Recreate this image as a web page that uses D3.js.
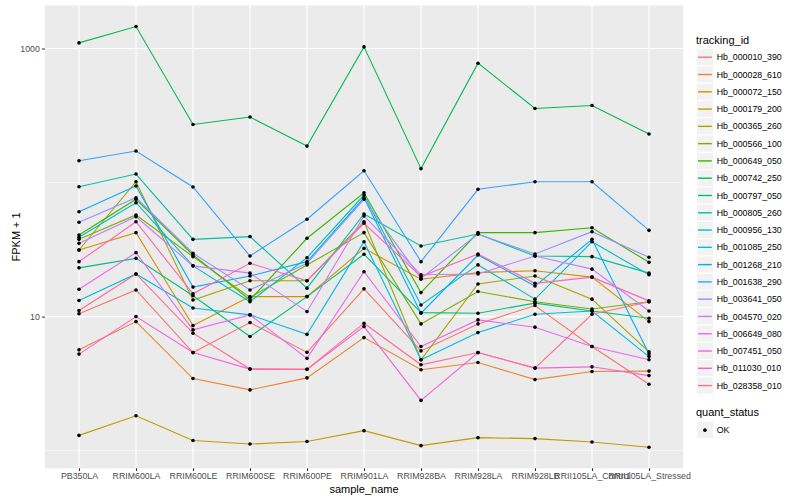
<!DOCTYPE html>
<html><head><meta charset="utf-8">
<script src="https://cdn.jsdelivr.net/npm/d3@7"></script>
<style>
body{margin:0;background:#fff}
text{font-family:"Liberation Sans",Arial,Helvetica,sans-serif}
</style>
</head><body>
<svg id="chart" width="800" height="500"></svg>
<script>
// ---- data (FPKM + 1) ----
const samples = ["PB350LA","RRIM600LA","RRIM600LE","RRIM600SE","RRIM600PE","RRIM901LA","RRIM928BA","RRIM928LA","RRIM928LB","RRII105LA_Control","RRII105LA_Stressed"];
const trackingIds = ["Hb_000010_390","Hb_000028_610","Hb_000072_150","Hb_000179_200","Hb_000365_260","Hb_000566_100","Hb_000649_050","Hb_000742_250","Hb_000797_050","Hb_000805_260","Hb_000956_130","Hb_001085_250","Hb_001268_210","Hb_001638_290","Hb_003641_050","Hb_004570_020","Hb_006649_080","Hb_007451_050","Hb_011030_010","Hb_028358_010"];

const hb000010 = [10.5, 15.8, 5.39, 9.02, 5.41, 16.1, 5.55, 8.82, 12.1, 5.98, 3.13];
const hb000028 = [5.65, 9.18, 3.45, 2.84, 3.49, 6.97, 4.01, 4.54, 3.39, 3.89, 3.92];
const hb000072 = [31.4, 42.3, 8.57, 14.1, 14.1, 32.3, 19.0, 21.3, 22.0, 19.7, 9.18];
const hb000179 = [1.30, 1.82, 1.19, 1.12, 1.17, 1.41, 1.09, 1.25, 1.23, 1.16, 1.06];
const hb000365 = [31.4, 101.4, 13.3, 18.5, 18.5, 51.0, 4.76, 17.5, 20.1, 13.5, 5.46];
const hb000566 = [37.7, 57.3, 28.0, 13.9, 24.3, 42.3, 8.82, 15.4, 12.9, 11.4, 12.9];
const hb000649 = [40.6, 75.0, 28.8, 13.3, 38.4, 83.9, 15.1, 42.3, 42.3, 46.0, 25.4];
const hb000742 = [1101, 1458, 271, 308, 187, 1028, 127, 777, 357, 376, 230];
const hb000797 = [23.1, 27.2, 14.3, 7.10, 14.1, 29.2, 10.7, 10.6, 12.6, 11.0, 9.73];
const hb000805 = [93.0, 115.7, 37.7, 39.5, 16.3, 58.3, 33.6, 41.3, 28.3, 28.0, 21.1];
const hb000956 = [39.1, 70.7, 23.9, 12.9, 27.5, 80.7, 12.2, 24.3, 13.5, 36.2, 20.5];
const hb001085 = [13.2, 20.8, 11.6, 10.3, 7.37, 36.2, 4.76, 7.60, 10.4, 11.0, 5.03];
const hb001268 = [60.6, 94.2, 16.6, 20.1, 25.7, 77.0, 10.6, 28.8, 16.9, 37.7, 5.27];
const hb001638 = [145.4, 171.7, 92.6, 28.3, 53.2, 122.4, 25.7, 89.0, 101.4, 101.4, 44.0];
const hb003641 = [50.5, 77.0, 29.7, 15.8, 25.0, 75.0, 19.3, 41.3, 29.3, 43.0, 27.7];
const hb004570 = [35.2, 55.6, 23.9, 21.1, 10.9, 56.3, 20.5, 20.8, 28.3, 22.6, 11.0];
const hb006649 = [16.0, 30.0, 7.96, 10.3, 4.88, 21.6, 5.98, 9.45, 8.34, 5.98, 4.76];
const hb007451 = [5.25, 10.0, 5.39, 4.06, 4.04, 8.42, 2.37, 5.39, 4.13, 4.22, 3.63];
const hb011030 = [25.7, 51.0, 14.8, 25.0, 18.5, 49.7, 19.9, 29.3, 17.7, 19.7, 13.1];
const hb028358 = [11.1, 20.8, 7.52, 4.06, 4.04, 8.93, 4.37, 5.39, 4.13, 10.4, 12.9];

const seriesValues = [hb000010, hb000028, hb000072, hb000179, hb000365, hb000566, hb000649, hb000742, hb000797, hb000805, hb000956, hb001085, hb001268, hb001638, hb003641, hb004570, hb006649, hb007451, hb011030, hb028358];
const yTicks = [10, 1000];
const yMinor = [1, 100];
const quantStatus = ["OK"];

// ---- style ----
const palette = ["#F8766D","#EA8331","#D89000","#C09B00","#A3A500","#7CAE00","#39B600","#00BB4E","#00BF7D","#00C1A3","#00BFC4","#00BAE0","#00B0F6","#35A2FF","#9590FF","#C77CFF","#E76BF3","#FA62DB","#FF62BC","#FF6C91"];

const svg = d3.select("#chart");
const P = {left: 44.8, right: 683.2, top: 5.5, bottom: 468.3};

const x = d3.scalePoint().domain(samples).range([P.left, P.right]).padding(0.6);

const allVals = seriesValues.flat();
const lo = Math.log10(d3.min(allVals)), hi = Math.log10(d3.max(allVals));
const ex = (hi - lo) * 0.05;
const y = d3.scaleLog().domain([Math.pow(10, lo - ex), Math.pow(10, hi + ex)]).range([P.bottom, P.top]);

// panel
svg.append("rect").attr("x", P.left).attr("y", P.top)
  .attr("width", P.right - P.left).attr("height", P.bottom - P.top).attr("fill", "#EBEBEB");

const grid = svg.append("g");
yMinor.forEach(v => grid.append("line").attr("x1", P.left).attr("x2", P.right)
  .attr("y1", y(v)).attr("y2", y(v)).attr("stroke", "#fff").attr("stroke-width", 0.55));
yTicks.forEach(v => grid.append("line").attr("x1", P.left).attr("x2", P.right)
  .attr("y1", y(v)).attr("y2", y(v)).attr("stroke", "#fff").attr("stroke-width", 1.1));
samples.forEach(s => grid.append("line").attr("x1", x(s)).attr("x2", x(s))
  .attr("y1", P.top).attr("y2", P.bottom).attr("stroke", "#fff").attr("stroke-width", 1.1));

// lines
const line = d3.line().x((d, i) => x(samples[i])).y(d => y(d));
const gl = svg.append("g");
seriesValues.forEach((vals, k) => {
  gl.append("path").attr("d", line(vals)).attr("fill", "none")
    .attr("stroke", palette[k]).attr("stroke-width", 1.1);
});
// points
const gp = svg.append("g");
seriesValues.forEach(vals => {
  vals.forEach((v, i) => gp.append("circle").attr("cx", x(samples[i])).attr("cy", y(v))
    .attr("r", 1.8).attr("fill", "#000"));
});

// axes
const xAxis = svg.append("g").attr("transform", `translate(0,${P.bottom})`)
  .call(d3.axisBottom(x).tickSize(2.74).tickPadding(2.2));
const yAxis = svg.append("g").attr("transform", `translate(${P.left},0)`)
  .call(d3.axisLeft(y).tickValues(yTicks).tickFormat(d3.format("d")).tickSize(2.74).tickPadding(2.2));
[xAxis, yAxis].forEach(a => {
  a.select(".domain").remove();
  a.selectAll(".tick line").attr("stroke", "#333").attr("stroke-width", 1.1);
  a.selectAll(".tick text").attr("fill", "#4D4D4D").style("font-size", "8.8px")
    .style("font-family", '"Liberation Sans",Arial,sans-serif');
});

svg.append("text").attr("x", (P.left + P.right) / 2).attr("y", 493)
  .attr("text-anchor", "middle").style("font-size", "11px").text("sample_name");
svg.append("text").attr("transform", `translate(20,${(P.top + P.bottom) / 2}) rotate(-90)`)
  .attr("text-anchor", "middle").style("font-size", "11px").text("FPKM + 1");

// legend: tracking_id
const LX = 696.3, KS = 17.28;
const lg = svg.append("g");
lg.append("text").attr("x", 696).attr("y", 44).style("font-size", "11px").text("tracking_id");
trackingIds.forEach((id, k) => {
  const ty = 48.6 + k * KS;
  lg.append("rect").attr("x", LX).attr("y", ty).attr("width", KS).attr("height", KS)
    .attr("fill", "#F2F2F2").attr("stroke", "#fff").attr("stroke-width", 1.1);
  lg.append("line").attr("x1", LX + KS * 0.1).attr("x2", LX + KS * 0.9)
    .attr("y1", ty + KS / 2).attr("y2", ty + KS / 2).attr("stroke", palette[k]).attr("stroke-width", 1.4);
  lg.append("text").attr("x", 716.7).attr("y", ty + KS / 2).attr("dy", "0.35em")
    .style("font-size", "8.8px").text(id);
});

// legend: quant_status
lg.append("text").attr("x", 696).attr("y", 416).style("font-size", "11px").text("quant_status");
quantStatus.forEach((q, k) => {
  const ty = 421.5 + k * KS;
  lg.append("rect").attr("x", LX).attr("y", ty).attr("width", KS).attr("height", KS)
    .attr("fill", "#F2F2F2").attr("stroke", "#fff").attr("stroke-width", 1.1);
  lg.append("circle").attr("cx", LX + KS / 2).attr("cy", ty + KS / 2).attr("r", 1.8).attr("fill", "#000");
  lg.append("text").attr("x", 716.7).attr("y", ty + KS / 2).attr("dy", "0.35em")
    .style("font-size", "8.8px").text(q);
});
</script>
</body></html>
